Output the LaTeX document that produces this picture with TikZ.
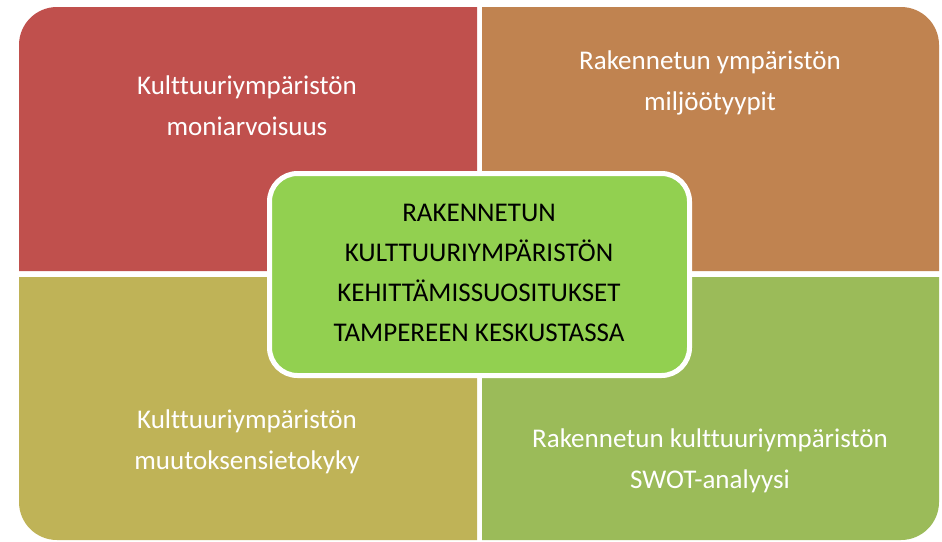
\documentclass[tikz,border=0pt]{standalone}
\usepackage{fontspec}
\setmainfont{Carlito}[Ligatures=NoCommon]

\definecolor{quadred}{HTML}{C0504D}
\definecolor{quadorange}{HTML}{C08350}
\definecolor{quadolive}{HTML}{BFB357}
\definecolor{quadgreen}{HTML}{9BBB59}
\definecolor{centregreen}{HTML}{92D050}

\tikzset{
  quadtext/.style={text=white, align=center, font=\fontsize{27}{41}\selectfont},
  centrebox/.style={draw=white, line width=5pt, rounded corners=28pt, fill=centregreen}
}

\begin{document}
\begin{tikzpicture}[x=1pt, y=-1pt]
        \useasboundingbox (0,0) rectangle (942,541);

        % four quarters, outer corner rounded
        \fill[quadred] (477,271) -- (19,271) [rounded corners=38pt] -- (19,7) [sharp corners] -- (477,7) -- cycle;
        \fill[quadorange] (482,271) -- (482,7) [rounded corners=38pt] -- (939,7) [sharp corners] -- (939,271) -- cycle;
        \fill[quadolive] (477,277) -- (19,277) [rounded corners=38pt] -- (19,540) [sharp corners] -- (477,540) -- cycle;
        \fill[quadgreen] (482,277) -- (482,540) [rounded corners=38pt] -- (939,540) [sharp corners] -- (939,277) -- cycle;

        \node[quadtext] (moni) at (247,106) {Kulttuuriympäristön\\moniarvoisuus};
        \node[quadtext] (miljoo) at (710,83) {Rakennetun ympäristön\\miljöötyypit};
        \node[quadtext] (muutos) at (247,442) {Kulttuuriympäristön\\muutoksensietokyky};
        \node[quadtext] (swot) at (710,461) {Rakennetun kulttuuriympäristön\\SWOT-analyysi};

        % centre
        \draw[centrebox] (269.5,173.5) rectangle (689.5,375.5);
        \node[align=center, font=\fontsize{27}{40}\selectfont] (suositus) at (479,273)
          {RAKENNETUN\\KULTTUURIYMPÄRISTÖN\\KEHITTÄMISSUOSITUKSET\\TAMPEREEN KESKUSTASSA};
      \end{tikzpicture}
\end{document}
